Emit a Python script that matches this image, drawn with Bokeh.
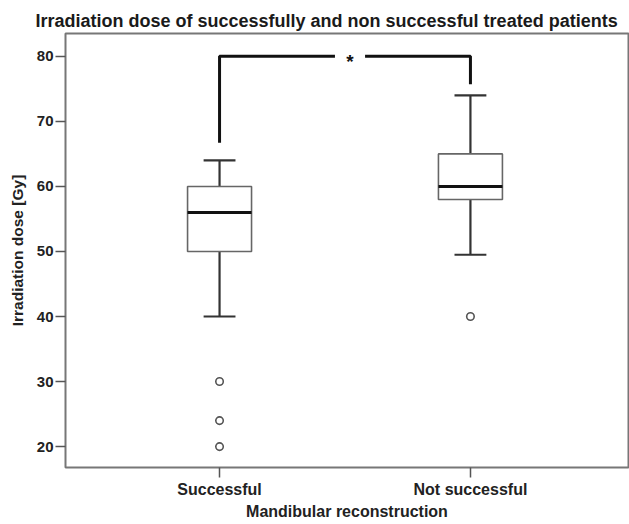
from bokeh.plotting import figure
from bokeh.embed import file_html
from bokeh.resources import INLINE
from bokeh.models import FixedTicker, Range1d, ColumnDataSource
from bokeh.core.properties import value

# ---- data ----
groups = ["Successful", "Not successful"]
xpos = [1, 2]
q1 = [50, 58]
median = [56, 60]
q3 = [60, 65]
whisker_low = [40, 49.5]
whisker_high = [64, 74]
outlier_group = [1, 1, 1, 2]
outlier_values = [30, 24, 20, 40]
bracket_top = 80
bracket_ends = [66.7, 75.7]
yticks = [20, 30, 40, 50, 60, 70, 80]

FONT = "Liberation Sans"
BOX_W = 0.255
CAP_W = 0.127

p = figure(width=629, height=522, output_backend="svg", toolbar_location=None,
           x_range=Range1d(0.386, 2.63), y_range=Range1d(16.79, 83.51),
           min_border_left=65, min_border_right=1, min_border_top=33, min_border_bottom=52)

p.title.text = "Irradiation dose of  successfully and non successful treated patients"
p.title.text_font = FONT
p.title.text_font_size = "18px"
p.title.text_font_style = "bold"
p.title.text_color = "#1a1a1a"
p.title.align = "left"
p.title.offset = -30
p.title.standoff = 6

p.xgrid.visible = False
p.ygrid.visible = False
p.outline_line_color = "#777777"
p.outline_line_width = 2
p.background_fill_color = "white"

src = ColumnDataSource(dict(x=xpos, q1=q1, med=median, q3=q3, lo=whisker_low, hi=whisker_high,
                            cl=[v - CAP_W / 2 for v in xpos], cr=[v + CAP_W / 2 for v in xpos],
                            bl=[v - BOX_W / 2 for v in xpos], br=[v + BOX_W / 2 for v in xpos]))

# whiskers
p.segment(x0="x", y0="q3", x1="x", y1="hi", source=src, line_color="#333333", line_width=2.2)
p.segment(x0="x", y0="q1", x1="x", y1="lo", source=src, line_color="#333333", line_width=2.2)
p.segment(x0="cl", y0="hi", x1="cr", y1="hi", source=src, line_color="#333333", line_width=2.2)
p.segment(x0="cl", y0="lo", x1="cr", y1="lo", source=src, line_color="#333333", line_width=2.2)
# boxes
p.vbar(x="x", width=BOX_W, bottom="q1", top="q3", source=src, fill_color="white",
       line_color="#666666", line_width=1.6)
p.segment(x0="bl", y0="med", x1="br", y1="med", source=src, line_color="#111111", line_width=3)
# outliers
p.scatter(outlier_group, outlier_values, size=7.5, marker="circle", fill_color=None,
          line_color="#555555", line_width=1.6)

# significance bracket
star_x = 1.52
p.line([xpos[0], xpos[0], 1.46], [bracket_ends[0], bracket_top, bracket_top],
       line_color="#111111", line_width=3)
p.line([1.58, xpos[1], xpos[1]], [bracket_top, bracket_top, bracket_ends[1]],
       line_color="#111111", line_width=3)
p.text(x=[star_x], y=[bracket_top], text=["*"], text_font=value(FONT), text_font_size="19px",
       text_font_style="bold", text_align="center", text_baseline="middle", text_color="#111111",
       y_offset=5)

# axes
p.yaxis.ticker = FixedTicker(ticks=yticks)
p.xaxis.ticker = FixedTicker(ticks=xpos)
p.xaxis.major_label_overrides = {1: groups[0], 2: groups[1]}
for ax in (p.xaxis, p.yaxis):
    ax.axis_line_color = "#777777"
    ax.axis_line_width = 1
    ax.major_tick_line_color = "#555555"
    ax.major_tick_line_width = 1.5
    ax.major_tick_out = 10
    ax.major_tick_in = 0
    ax.minor_tick_line_color = None
    ax.major_label_text_font = FONT
    ax.major_label_text_font_style = "bold"
    ax.major_label_text_color = "#222222"
    ax.axis_label_text_font = FONT
    ax.axis_label_text_font_style = "bold"
    ax.axis_label_text_color = "#222222"
p.yaxis.major_label_text_font_size = "15px"
p.xaxis.major_label_text_font_size = "16px"
p.yaxis.axis_label = "Irradiation dose [Gy]"
p.xaxis.axis_label = "Mandibular reconstruction"
p.yaxis.axis_label_text_font_size = "15.5px"
p.xaxis.axis_label_text_font_size = "16px"
p.yaxis.major_label_standoff = 2
p.xaxis.major_label_standoff = 3
p.xaxis.axis_label_standoff = 2
p.yaxis.axis_label_standoff = 8

open("out.html", "w").write(file_html(p, INLINE))
